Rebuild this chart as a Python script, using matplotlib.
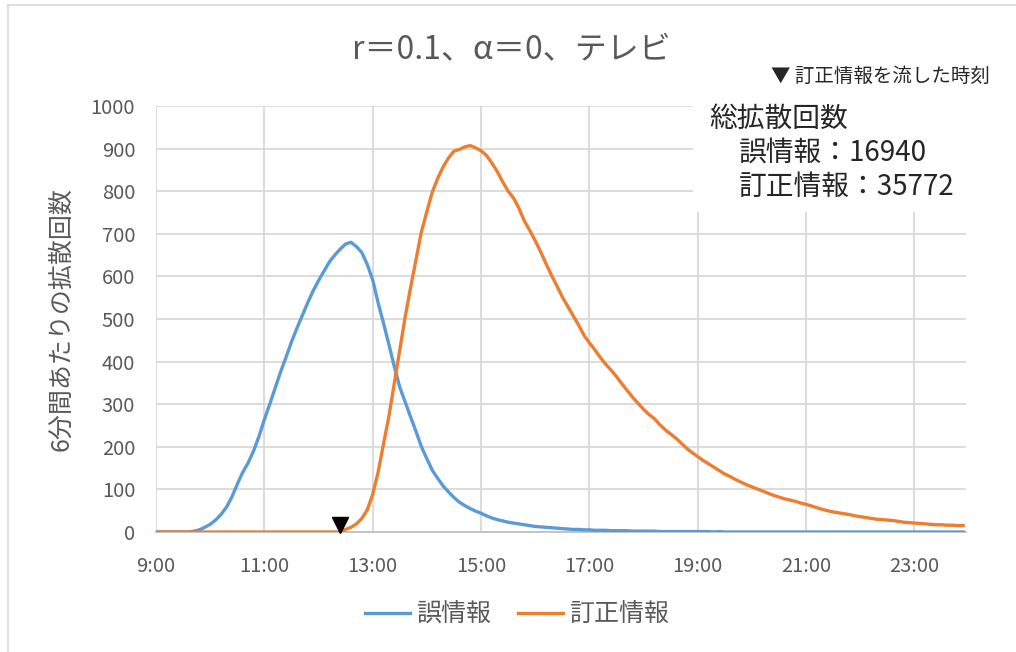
##
## === DEPENDENCIES
##

import matplotlib

matplotlib.use("Agg")

import matplotlib.pyplot as plt
import matplotlib.transforms as mtransforms
import numpy
from matplotlib.lines import Line2D
from matplotlib.patches import Rectangle

##
## === DATA (6-minute bins starting at 9:00)
##

START_HOUR = 9.0
STEP_HOURS = 0.1

misinfo_counts = [
    0, 0, 0, 0, 0, 0, 0, 2, 5, 11,
    18, 28, 41, 58, 82, 112, 140, 162, 190, 224,
    264, 300, 338, 376, 410, 446, 478, 508, 538, 566,
    590, 612, 634, 650, 664, 676, 680, 670, 656, 628,
    592, 538, 490, 440, 388, 340, 305, 270, 236, 200,
    172, 145, 126, 108, 94, 81, 70, 62, 55, 49,
    44, 38, 33, 29, 26, 23, 21, 19, 17, 15,
    13, 12, 11, 10, 9, 8, 7, 6, 6, 5,
    5, 4, 4, 4, 3, 3, 3, 3, 2, 2,
    2, 2, 2, 1, 1, 1, 1, 1, 1, 1,
    1, 1, 1, 0, 1, 0, 0, 0, 0, 0,
    0, 0, 0, 0, 0, 0, 0, 0, 0, 0,
    0, 0, 0, 0, 0, 0, 0, 0, 0, 0,
    0, 0, 0, 0, 0, 0, 0, 0, 0, 0,
    0, 0, 0, 0, 0, 0, 0, 0, 0, 0,
]

correction_counts = [
    0, 0, 0, 0, 0, 0, 0, 0, 0, 0,
    0, 0, 0, 0, 0, 0, 0, 0, 0, 0,
    0, 0, 0, 0, 0, 0, 0, 0, 0, 0,
    0, 0, 0, 0, 0, 6, 11, 19, 32, 52,
    88, 140, 207, 272, 350, 428, 505, 574, 640, 705,
    752, 798, 830, 857, 878, 894, 898, 904, 907, 902,
    895, 884, 866, 846, 822, 800, 784, 760, 730, 708,
    684, 658, 630, 603, 578, 552, 530, 508, 486, 462,
    444, 428, 410, 394, 380, 365, 348, 332, 316, 302,
    288, 276, 266, 252, 240, 230, 220, 208, 196, 186,
    177, 168, 160, 152, 144, 136, 130, 123, 117, 111,
    106, 101, 96, 91, 86, 82, 78, 75, 72, 68,
    65, 61, 57, 53, 50, 47, 45, 43, 41, 38,
    36, 34, 32, 30, 29, 28, 27, 25, 23, 22,
    21, 20, 19, 18, 17, 17, 16, 16, 15, 15,
]

correction_release_hour = 12.4

series_labels = ["誤情報", "訂正情報"]
series_colors = ["#5b9bd5", "#ed7d31"]

tick_hours = [9, 11, 13, 15, 17, 19, 21, 23]
y_ticks = list(range(0, 1001, 100))

title_text = "r＝0.1、α＝0、テレビ"
y_label_text = "6分間あたりの拡散回数"
marker_note_text = "▼ 訂正情報を流した時刻"
summary_lines = ["総拡散回数", "誤情報：16940", "訂正情報：35772"]

##
## === LAYOUT HELPERS
##

FIG_W = 1016
FIG_H = 652
TEXT_GRAY = "#595959"
GRID_GRAY = "#d9d9d9"


def fx(px: float) -> float:
    return px / FIG_W


def fy(py: float) -> float:
    return 1.0 - py / FIG_H


##
## === MAIN
##


def main() -> None:
    plt.rcParams["font.family"] = ["Noto Sans CJK JP", "DejaVu Sans"]

    n_bins = len(misinfo_counts)
    hours = START_HOUR + STEP_HOURS * numpy.arange(n_bins)

    fig = plt.figure(figsize=(FIG_W / 100, FIG_H / 100), dpi=100)
    fig.patch.set_facecolor("white")

    # chart frame, only left and top edges fall inside the canvas
    fig.add_artist(Line2D([fx(8), fx(8)], [0, fy(5)], color=GRID_GRAY, lw=1.2))
    fig.add_artist(Line2D([fx(8), 1], [fy(5), fy(5)], color=GRID_GRAY, lw=1.2))

    ax = fig.add_axes([fx(156), fy(532), fx(966) - fx(156), fy(106) - fy(532)])

    for counts, label, color in zip(
        [misinfo_counts, correction_counts], series_labels, series_colors
    ):
        ax.plot(hours, counts, color=color, lw=2.4, label=label, zorder=3,
                solid_joinstyle="round")

    # release marker, tip resting on the zero line
    marker_offset = mtransforms.offset_copy(ax.transData, fig=fig, x=0, y=7.5, units="dots")
    ax.plot([correction_release_hour], [0], marker="v", ms=11, color="black",
            linestyle="none", transform=marker_offset, zorder=4, clip_on=False)

    ax.set_xlim(START_HOUR, START_HOUR + (966 - 156) / 54.17)
    ax.set_ylim(0, 1000)
    ax.set_xticks(tick_hours)
    ax.set_xticklabels([f"{h}:00" for h in tick_hours])
    ax.set_yticks(y_ticks)
    ax.tick_params(axis="both", length=0, labelsize=14.5, labelcolor=TEXT_GRAY)
    ax.tick_params(axis="x", pad=17)
    ax.tick_params(axis="y", pad=15)

    ax.grid(True, color=GRID_GRAY, lw=1.3)
    ax.set_axisbelow(True)
    for side in ["top", "right", "left"]:
        ax.spines[side].set_visible(False)
    ax.spines["bottom"].set_color("#bfbfbf")
    ax.spines["bottom"].set_linewidth(1.3)

    # white box under the summary text hides the grid behind it
    ax.add_patch(Rectangle((fx(693), fy(212)), fx(1010) - fx(693), fy(95) - fy(212),
                           transform=fig.transFigure, facecolor="white",
                           edgecolor="none", zorder=1.5, clip_on=False))

    fig.text(fx(511), fy(50), title_text, ha="center", va="center",
             fontsize=23, color=TEXT_GRAY)
    fig.text(fx(61), fy(319), y_label_text, ha="center", va="center",
             rotation=90, fontsize=18, color=TEXT_GRAY)
    fig.text(fx(771), fy(76), marker_note_text, ha="left", va="center",
             fontsize=14, color="#262626")

    summary_pos = [(709, 119), (739, 153), (739, 187)]
    for line, (px, py) in zip(summary_lines, summary_pos):
        fig.text(fx(px), fy(py), line, ha="left", va="center",
                 fontsize=20, color="#262626", zorder=5)

    fig.legend(loc="center", bbox_to_anchor=(fx(517), fy(615)), ncol=2,
               frameon=False, fontsize=18, handlelength=1.8,
               handletextpad=0.25, columnspacing=1.1, labelcolor=TEXT_GRAY)

    fig_name = "out.png"
    fig.savefig(fig_name, dpi=100)
    print(f"\t> saved: {fig_name}")


if __name__ == "__main__":
    main()
